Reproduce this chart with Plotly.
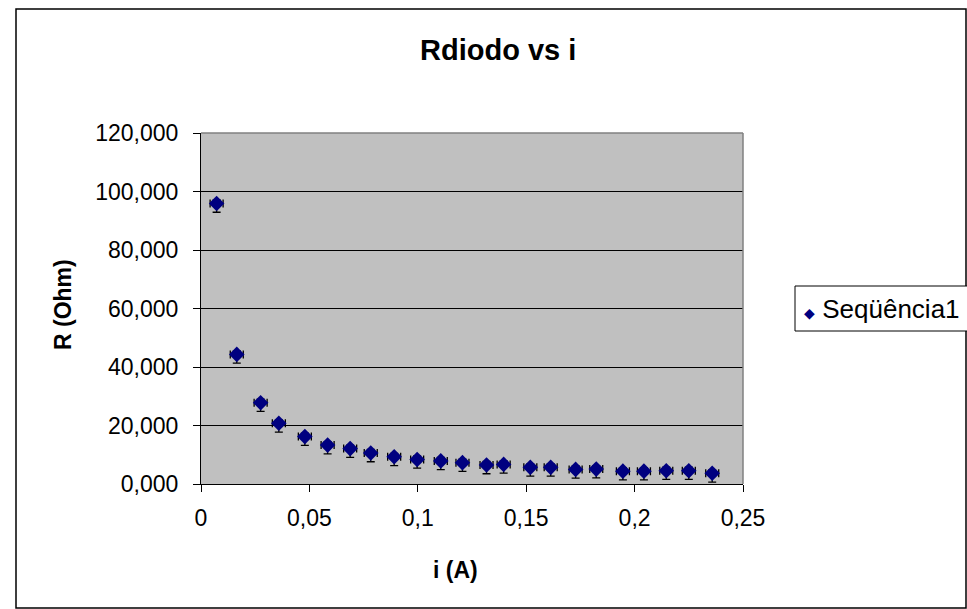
import plotly.graph_objects as go

# Diode resistance versus current
current_a = [0.0072, 0.0165, 0.0275, 0.0359, 0.0479, 0.0584, 0.0688, 0.0783,
             0.0891, 0.0997, 0.1106, 0.1206, 0.1317, 0.1396, 0.1519, 0.1613,
             0.1728, 0.1823, 0.1946, 0.2043, 0.2146, 0.2250, 0.2358]
resistance_ohm = [95.9, 44.3, 27.8, 20.75, 16.2, 13.3, 12.1, 10.6,
                  9.3, 8.4, 7.9, 7.3, 6.5, 6.7, 5.7, 5.7,
                  5.0, 5.1, 4.4, 4.4, 4.55, 4.55, 3.65]
err_current = [0.003] * len(current_a)
err_r_up = [1.2] * len(current_a)
err_r_down = [3.0] * len(current_a)

series_name = "Seqüência1"
x_ticks = [0, 0.05, 0.1, 0.15, 0.2, 0.25]
y_ticks = [0, 20, 40, 60, 80, 100, 120]

W, H = 967, 609
L, R, T, B = 201, 224, 133, 125
PW, PH = W - L - R, H - T - B


def px(xp):
    return (xp - L) / PW


def py(yp):
    return (H - B - yp) / PH


FONT = "Liberation Sans, Arial, sans-serif"
NAVY = "#000080"

fig = go.Figure()
fig.add_trace(go.Scatter(
    x=current_a, y=resistance_ohm, mode="markers", name=series_name,
    marker=dict(symbol="diamond", size=12, color=NAVY),
    error_x=dict(type="data", array=err_current, color="black",
                 thickness=1.3, width=4),
    error_y=dict(type="data", array=err_r_up, arrayminus=err_r_down,
                 color="black", thickness=1.3, width=4),
    showlegend=False,
))

axis_common = dict(
    showline=True, linecolor="black", linewidth=1, mirror=False,
    ticks="outside", ticklen=7, tickcolor="black", tickwidth=1,
    tickfont=dict(family=FONT, size=23, color="black"),
    zeroline=False,
)

fig.update_xaxes(range=[0, 0.25], tickvals=x_ticks, showgrid=False,
                 ticklabelstandoff=6, **axis_common)
fig.update_yaxes(range=[0, 120], tickvals=y_ticks, tickformat=".3f",
                 showgrid=True, gridcolor="black", gridwidth=1,
                 ticklabelstandoff=10, **axis_common)

shapes = [
    # outer chart frame
    dict(type="rect", xref="paper", yref="paper",
         x0=px(16), x1=px(966), y0=py(608), y1=py(9),
         line=dict(color="black", width=1.5), layer="below"),
    # plot area frame (top and right edges)
    dict(type="line", xref="paper", yref="paper", x0=0, x1=1, y0=1, y1=1,
         line=dict(color="#808080", width=1.5)),
    dict(type="line", xref="paper", yref="paper", x0=1, x1=1, y0=0, y1=1,
         line=dict(color="#808080", width=1.5)),
    # legend box
    dict(type="rect", xref="paper", yref="paper",
         x0=px(795), x1=px(1000), y0=py(331), y1=py(286),
         line=dict(color="black", width=1), fillcolor="white"),
]

annotations = [
    dict(text="<b>Rdiodo vs i</b>", xref="paper", yref="paper",
         x=px(498), y=py(50), xanchor="center", yanchor="middle",
         showarrow=False, font=dict(family=FONT, size=29, color="black")),
    dict(text="<b>R (Ohm)</b>", xref="paper", yref="paper",
         x=px(63), y=py(305), xanchor="center", yanchor="middle",
         showarrow=False, textangle=-90,
         font=dict(family=FONT, size=23, color="black")),
    dict(text="<b>i (A)</b>", xref="paper", yref="paper",
         x=px(455), y=py(570), xanchor="center", yanchor="middle",
         showarrow=False, font=dict(family=FONT, size=23, color="black")),
    dict(text=f'<span style="color:{NAVY};font-size:14px">◆</span> {series_name}',
         xref="paper", yref="paper", x=px(802), y=py(309),
         xanchor="left", yanchor="middle", showarrow=False,
         font=dict(family=FONT, size=26, color="black")),
]

fig.update_layout(
    width=W, height=H,
    margin=dict(l=L, r=R, t=T, b=B),
    paper_bgcolor="white", plot_bgcolor="#C0C0C0",
    separators=",.",
    shapes=shapes, annotations=annotations,
    showlegend=False,
)

fig.write_html("out.html")
